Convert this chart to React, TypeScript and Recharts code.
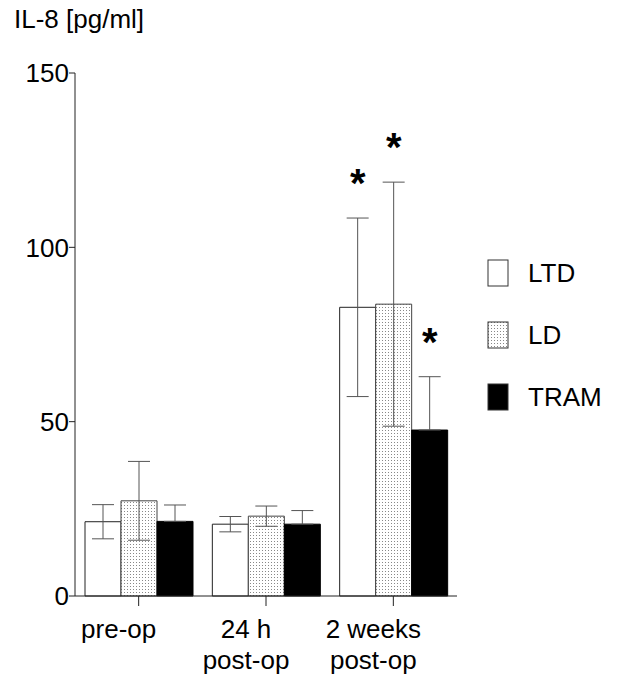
import React from 'react';
import { BarChart, Bar, XAxis, YAxis, ErrorBar, Legend, LabelList } from 'recharts';

const categories = ['pre-op', '24 h|post-op', '2 weeks|post-op'];
const ltd = [21.3, 20.6, 82.8];
const ltdSd = [4.9, 2.2, 25.6];
const ld = [27.3, 22.9, 83.7];
const ldSd = [11.3, 2.9, 35];
const tram = [21.4, 20.6, 47.6];
const tramSd = [4.7, 3.9, 15.3];
const ltdSig = [false, false, true];
const ldSig = [false, false, true];
const tramSig = [false, false, true];
const yTicks = [0, 50, 100, 150];
const seriesOrder = ['LTD', 'LD', 'TRAM'];

const FONT = '"Liberation Sans", Arial, sans-serif';

const data = categories.map((c, i) => ({
  name: c,
  ltd: ltd[i],
  ltdSd: ltdSd[i],
  ld: ld[i],
  ldSd: ldSd[i],
  tram: tram[i],
  tramSd: tramSd[i],
}));

const legendFill: Record<string, string> = {
  LTD: '#fff',
  LD: 'url(#ldDotsLegend)',
  TRAM: '#000',
};

// asterisk above the error cap of significant bars
const star = (sd: number[], sig: boolean[]) => (props: any) => {
  const { x, y, width, height, index, value } = props;
  if (!sig[index]) return null;
  const capY = y - sd[index] * (height / value);
  return (
    <text
      x={x + width / 2}
      y={capY - 21}
      textAnchor="middle"
      fontSize={40}
      fontWeight="bold"
      fontFamily={FONT}
      fill="#000"
    >
      *
    </text>
  );
};

const XTick = (props: any) => {
  const { x, y, payload } = props;
  const lines = String(payload.value).split('|');
  return (
    <text x={x - 20} y={y} textAnchor="middle" fontSize={26} fontFamily={FONT} fill="#000">
      {lines.map((l, i) => (
        <tspan key={i} x={x - 20} dy={i === 0 ? 30 : 31}>
          {l}
        </tspan>
      ))}
    </text>
  );
};

const renderLegend = (props: any) => {
  const payload = [...props.payload].sort(
    (a: any, b: any) => seriesOrder.indexOf(a.value) - seriesOrder.indexOf(b.value)
  );
  return (
    <div style={{ fontFamily: FONT }}>
      <svg width={0} height={0} style={{ position: 'absolute' }}>
        <defs>
          <pattern id="ldDotsLegend" width="3" height="3" patternUnits="userSpaceOnUse">
            <rect width="3" height="3" fill="#fff" />
            <rect x="1" y="1" width="1" height="1" fill="#888" />
          </pattern>
        </defs>
      </svg>
      {payload.map((entry: any, index: number) => (
        <div key={`item-${index}`} style={{ display: 'flex', alignItems: 'center', height: 62 }}>
          <svg width={22} height={28} style={{ marginRight: 19 }}>
            <rect x={1} y={1} width={20} height={26} fill={legendFill[entry.value]} stroke="#333" strokeWidth={1} />
          </svg>
          <span style={{ fontSize: 26, color: '#000' }}>{entry.value}</span>
        </div>
      ))}
    </div>
  );
};

export default function App() {
  return (
    <div style={{ position: 'absolute', left: 0, top: 0 }}>
      <BarChart
        width={618}
        height={679}
        data={data}
        margin={{ top: 73, right: 161, left: 0, bottom: 0 }}
        barGap={0}
        barSize={36}
      >
        <defs>
          <pattern id="ldDots" width="3" height="3" patternUnits="userSpaceOnUse">
            <rect width="3" height="3" fill="#fff" />
            <rect x="1" y="1" width="1" height="1" fill="#888" />
          </pattern>
        </defs>
        <XAxis
          dataKey="name"
          height={83}
          axisLine={{ stroke: '#222' }}
          tickLine={{ stroke: '#222' }}
          tickSize={10}
          tickMargin={2}
          tick={<XTick />}
          interval={0}
        />
        <YAxis
          width={75}
          domain={[0, 150]}
          ticks={yTicks}
          axisLine={{ stroke: '#222' }}
          tickLine={{ stroke: '#222' }}
          tickSize={6}
          tickMargin={0}
          tick={{ fill: '#000', fontSize: 26, fontFamily: FONT }}
          label={{
            content: () => (
              <text x={14} y={28} fontSize={26} fontFamily={FONT} fill="#000">
                IL-8 [pg/ml]
              </text>
            ),
          }}
        />
        <Legend
          content={renderLegend}
          layout="horizontal"
          verticalAlign="middle"
          align="center"
          wrapperStyle={{ left: 487, top: 242, width: 130 }}
        />
        <Bar dataKey="ltd" name="LTD" fill="#fff" stroke="#222" strokeWidth={1} isAnimationActive={false}>
          <ErrorBar dataKey="ltdSd" width={11} stroke="#555" strokeWidth={1} isAnimationActive={false} />
          <LabelList dataKey="ltd" content={star(ltdSd, ltdSig)} />
        </Bar>
        <Bar dataKey="ld" name="LD" fill="url(#ldDots)" stroke="#444" strokeWidth={1} isAnimationActive={false}>
          <ErrorBar dataKey="ldSd" width={11} stroke="#555" strokeWidth={1} isAnimationActive={false} />
          <LabelList dataKey="ld" content={star(ldSd, ldSig)} />
        </Bar>
        <Bar dataKey="tram" name="TRAM" fill="#000" stroke="#000" strokeWidth={1} isAnimationActive={false}>
          {/* lower whisker is hidden inside the black bar in the original */}
          <ErrorBar
            dataKey={(d: any) => [0, d.tramSd]}
            width={11}
            stroke="#555"
            strokeWidth={1}
            isAnimationActive={false}
          />
          <LabelList dataKey="tram" content={star(tramSd, tramSig)} />
        </Bar>
      </BarChart>
    </div>
  );
}
